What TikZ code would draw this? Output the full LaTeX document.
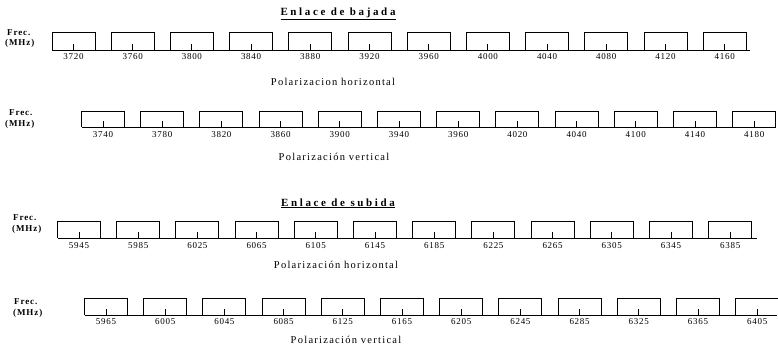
\documentclass[tikz,border=0pt]{standalone}
\usepackage{fontspec}
\setmainfont{Liberation Serif}
\newfontfamily\ttlfont{Liberation Serif}[LetterSpace=24]
\newfontfamily\numfont{Liberation Serif}[LetterSpace=8]
\newfontfamily\polfont{Liberation Serif}[LetterSpace=12]
\newfontfamily\frecfont{Liberation Serif}[LetterSpace=10]
\tikzset{
  canal/.style={line width=1pt},
  titulo/.style={font=\fontsize{11}{12}\selectfont\ttlfont\bfseries, anchor=base, inner sep=0pt},
  frec/.style={font=\fontsize{9}{10}\selectfont\frecfont\bfseries, anchor=west, inner sep=0pt},
  num/.style={font=\fontsize{9}{10}\selectfont\numfont, inner sep=0pt},
  polar/.style={font=\fontsize{10.5}{12}\selectfont\polfont, anchor=base, inner sep=0pt}
}
\begin{document}
\begin{tikzpicture}[x=1pt,y=-1pt]
\useasboundingbox (0,0) rectangle (778,348);

\node[titulo] (bajada) at (338,15) {\underline{Enlace de bajada}};

\node[frec] (frec1) at (7,33) {Frec.};
\node[frec] (mhz1) at (5,43) {(MHz)};
\draw[canal] (52,50) -- (750,50);
\foreach \f [count=\i from 0] in {3720,3760,3800,3840,3880,3920,3960,4000,4040,4080,4120,4160}{
  \draw[canal] (73.5+59.2*\i-21.5,50) |- (73.5+59.2*\i+21.5,32) -- (73.5+59.2*\i+21.5,50);
  \draw[canal] (73.5+59.2*\i,50) -- ++(0,-6);
  \node[num] (bh\i) at (73.5+59.2*\i,57) {\f};
}
\node[polar] (polbh) at (333,85.5) {Polarizacion horizontal};

\node[frec] (frec2) at (9,113) {Frec.};
\node[frec] (mhz2) at (5,124) {(MHz)};
\draw[canal] (82,127) -- (776,127);
\foreach \f [count=\i from 0] in {3740,3780,3820,3860,3900,3940,3960,4020,4040,4100,4140,4180}{
  \draw[canal] (103+59.2*\i-21.5,127) |- (103+59.2*\i+21.5,111) -- (103+59.2*\i+21.5,127);
  \draw[canal] (103+59.2*\i,127) -- ++(0,-6);
  \node[num] (bv\i) at (103+59.2*\i,135) {\f};
}
\node[polar] (polbv) at (334,160.5) {Polarización vertical};

\node[titulo] (subida) at (338,206) {\underline{Enlace de subida}};

\node[frec] (frec3) at (13,218) {Frec.};
\node[frec] (mhz3) at (12,229) {(MHz)};
\draw[canal] (58,238) -- (757,238);
\foreach \f [count=\i from 0] in {5945,5985,6025,6065,6105,6145,6185,6225,6265,6305,6345,6385}{
  \draw[canal] (79+59.2*\i-21.5,238) |- (79+59.2*\i+21.5,221) -- (79+59.2*\i+21.5,238);
  \draw[canal] (79+59.2*\i,238) -- ++(0,-6);
  \node[num] (sh\i) at (79+59.2*\i,246) {\f};
}
\node[polar] (polsh) at (336,268.5) {Polarización horizontal};

\node[frec] (frec4) at (14,302) {Frec.};
\node[frec] (mhz4) at (13,313) {(MHz)};
\draw[canal] (85,315) -- (777,315);
\foreach \f [count=\i from 0] in {5965,6005,6045,6085,6125,6165,6205,6245,6285,6325,6365,6405}{
  \draw[canal] (106+59.2*\i-21.5,315) |- (106+59.2*\i+21.5,298) -- (106+59.2*\i+21.5,315);
  \draw[canal] (106+59.2*\i,315) -- ++(0,-6);
  \node[num] (sv\i) at (106+59.2*\i,322) {\f};
}
\node[polar] (polsv) at (346,343) {Polarización vertical};
\end{tikzpicture}
\end{document}
